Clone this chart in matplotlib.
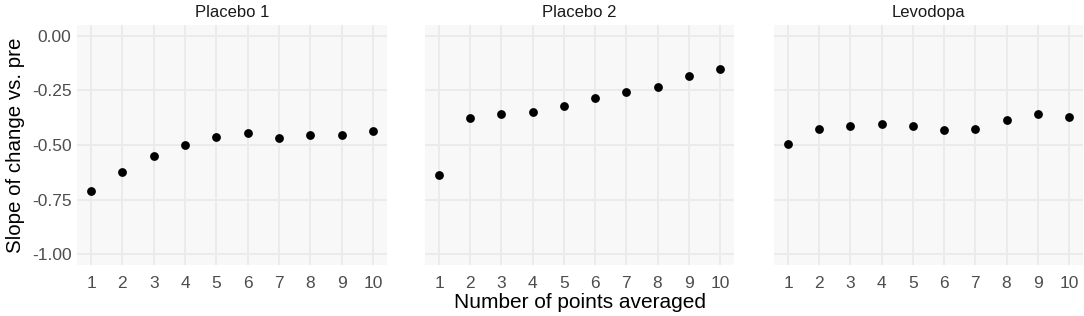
import numpy as np
import matplotlib
matplotlib.use("Agg")
import matplotlib.pyplot as plt

plt.rcParams['font.family'] = ['Liberation Sans', 'DejaVu Sans']

# data
n_points = [1, 2, 3, 4, 5, 6, 7, 8, 9, 10]
panels = ['Placebo 1', 'Placebo 2', 'Levodopa']
placebo1 = [-0.712, -0.623, -0.550, -0.498, -0.465, -0.444, -0.467, -0.455, -0.452, -0.438]
placebo2 = [-0.636, -0.374, -0.359, -0.351, -0.323, -0.285, -0.255, -0.235, -0.182, -0.150]
levodopa = [-0.495, -0.426, -0.415, -0.403, -0.411, -0.430, -0.426, -0.385, -0.359, -0.371]
series = [placebo1, placebo2, levodopa]
yticks = [0.0, -0.25, -0.5, -0.75, -1.0]
ytick_labels = ['0.00', '-0.25', '-0.50', '-0.75', '-1.00']

W, H = 1084, 316
fig = plt.figure(figsize=(W / 100, H / 100), dpi=100)

# panel pixel extents (left, right)
lefts = [77, 425, 774]
rights = [387, 734, 1083]
top, bottom = 25, 265

for i, (name, vals) in enumerate(zip(panels, series)):
    ax = fig.add_axes([lefts[i] / W, (H - bottom) / H,
                       (rights[i] - lefts[i]) / W, (bottom - top) / H])
    ax.set_facecolor('#f8f8f8')
    ax.scatter(n_points, vals, s=40, color='black', zorder=3, linewidths=0)
    ax.set_xlim(0.55, 10.45)
    ax.set_ylim(-1.05, 0.05)
    ax.set_xticks(n_points)
    ax.set_yticks(yticks)
    ax.grid(True, color='#ebebeb', linewidth=1.4)
    ax.set_axisbelow(True)
    for s in ax.spines.values():
        s.set_visible(False)
    ax.tick_params(length=0, labelsize=12.5, colors='#4d4d4d')
    ax.tick_params(axis='x', pad=8)
    ax.tick_params(axis='y', pad=4)
    if i == 0:
        ax.set_yticklabels(ytick_labels)
        ax.set_ylabel('Slope of change vs. pre', fontsize=14.8, labelpad=5)
    else:
        ax.set_yticklabels([])
    ax.set_title(name, fontsize=12, pad=6, color='#1a1a1a')

fig.text(580 / W, 1 - 302 / H, 'Number of points averaged', ha='center', va='center', fontsize=15)

fig.savefig('out.png', dpi=100)
